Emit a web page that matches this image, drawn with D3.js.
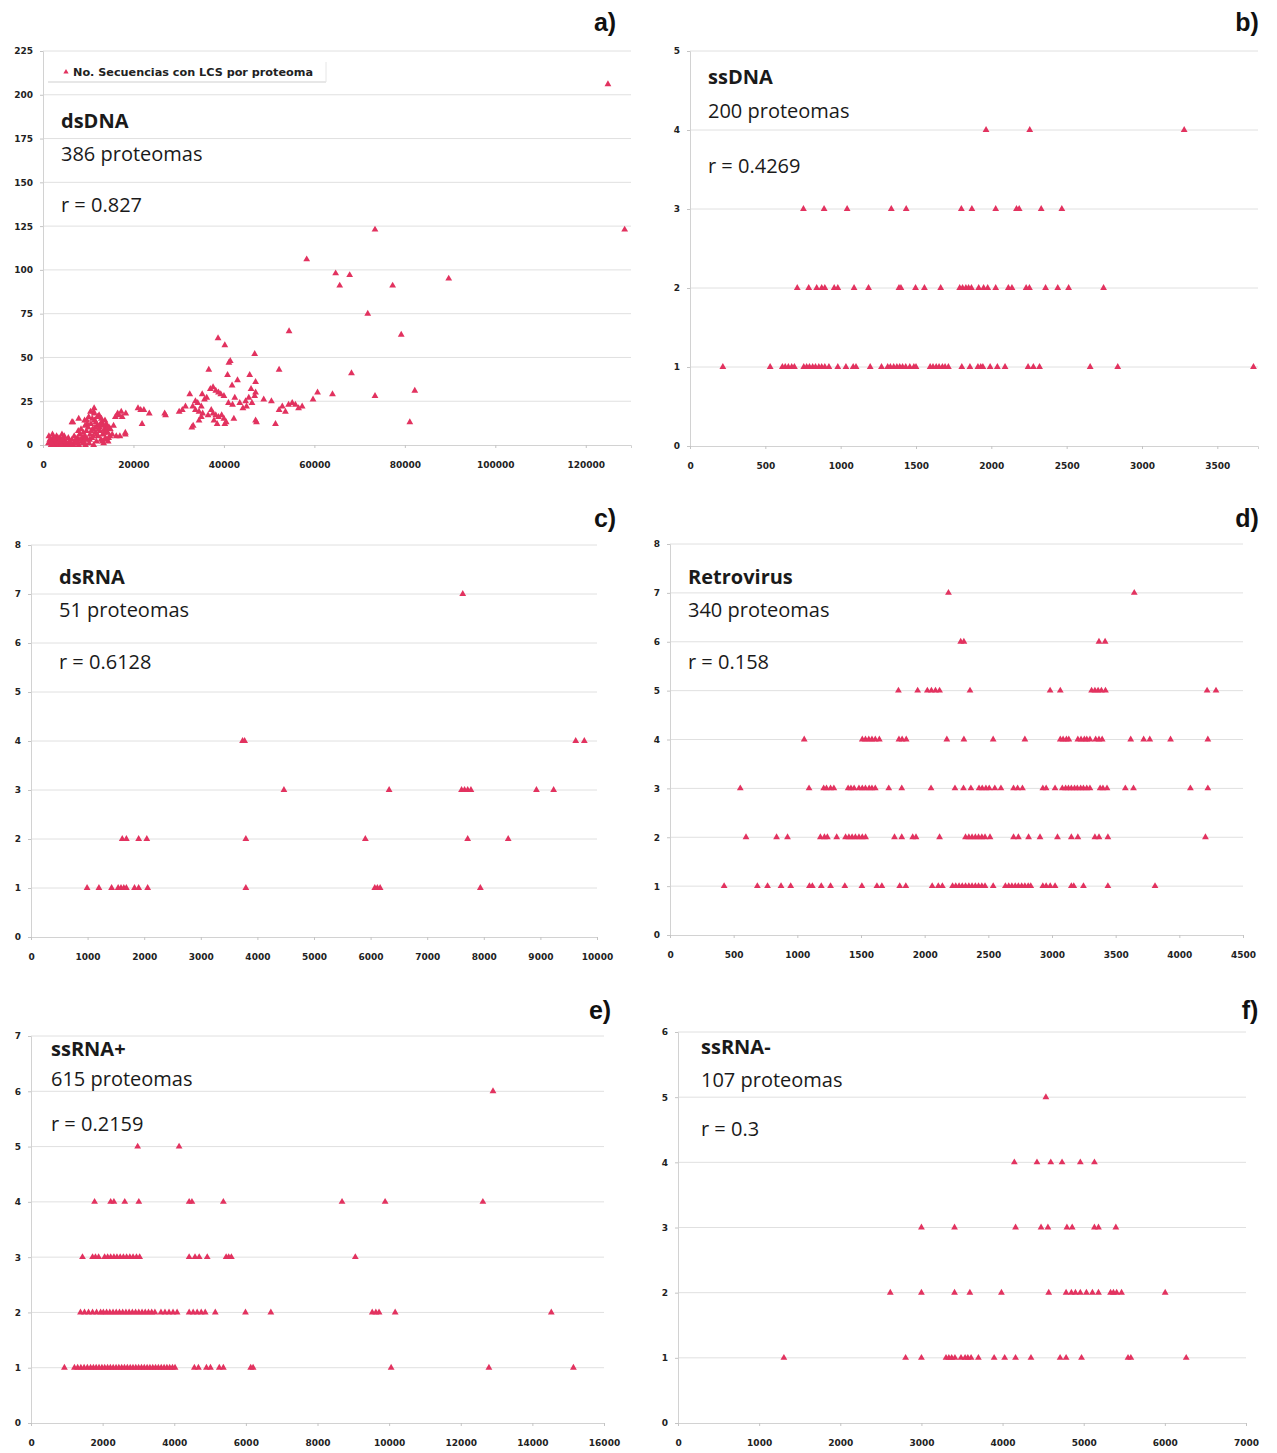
<!DOCTYPE html>
<html>
<head>
<meta charset="utf-8">
<script src="https://cdn.jsdelivr.net/npm/d3@7"></script>
<style>
  body { margin: 0; background: #fff; }
  .tick text { font-family: "DejaVu Sans", sans-serif; font-size: 9px; font-weight: bold; fill: #222; }
  .panel-title { font-family: "Open Sans", sans-serif; font-size: 20px; fill: #1a1a1a; }
  .panel-letter { font-family: "Liberation Sans", Arial, sans-serif; font-size: 25px; font-weight: bold; fill: #111; }
</style>
</head>
<body>
<div class="svg"></div>
<script>
var svgWidth = 1277;
var svgHeight = 1453;
var pointColor = "#e2325f";

// ---- a) dsDNA (x = proteins/length, y = no. sequences with LCS)
var dsdnaX = [124900, 128600, 73400, 58300, 64700, 67800, 65600, 77300, 89700, 71800,
  79200, 54400, 68200, 73400, 82200, 81100, 38700, 40200, 46800, 41100,
  41400, 36650, 52200, 40800, 45700, 43000, 41800, 47000, 47000, 46800,
  47200, 37000, 37600, 38200, 38800, 39300, 40000, 36200, 35700, 35200,
  32450, 33100, 33700, 34500, 35300, 37200, 37600, 38200, 31500, 30800,
  30100, 26900, 27100, 21000, 21600, 22300, 23500, 16500, 17300, 18300,
  16000, 11300, 11200, 40000, 40500, 39500, 38800, 42200, 47000, 51400,
  33200, 32900, 34500, 35000, 52200, 52900, 53600, 54300, 55100, 55800,
  56500, 57300, 59700, 60700, 64000, 21900, 18200, 6400, 7900, 9200,
  9800, 12000, 13800, 44800, 45500, 46200, 46000, 43500, 42400, 48800,
  50500, 44200, 45000, 41900, 41000, 36500, 37800, 38500, 40200, 35000,
  34200, 33700,
  1200, 1500, 1800, 2000, 2200, 2400, 2600, 2800, 3000, 3200,
  3400, 3600, 3800, 4000, 4200, 4400, 4600, 4800, 5000, 1300,
  2100, 2900, 3300, 4100, 4700, 1600, 2500, 3500, 4300, 1900,
  5200, 5500, 5800, 6100, 6400, 6700, 7000, 7300, 7600, 7900,
  8200, 8500, 8800, 5600, 6300, 6900, 7500, 8100, 8700, 6600,
  7800, 8400, 8900,
  9000, 9200, 9400, 9600, 9800, 10000, 10200, 10400, 10600, 10800,
  11000, 11200, 11400, 11600, 11800, 12000, 12200, 12400, 12600, 12800,
  13000, 13200, 13400, 13600, 13800, 14000, 14200, 14400, 14600, 14800,
  9300, 9700, 10100, 10500, 10900, 11300, 11700, 12100, 12500, 12900,
  13300, 13700, 14100, 14500, 14900, 15300, 15600, 16200, 17000, 18200,
  16800, 17500, 9500, 10300, 10700, 11100, 11500, 11900, 12300, 12700,
  13100, 13500, 13900, 14300];
var dsdnaY = [206, 123, 123, 106, 98, 97, 91, 91, 95, 75,
  63, 65, 41, 28, 31, 13, 61, 57, 52, 47,
  48, 43, 43, 40, 40, 37, 34, 36, 30, 28,
  13, 32, 33, 31, 30, 29, 28, 27, 26, 29,
  29, 22, 20, 19, 18, 20, 18, 17, 22, 20,
  19, 18, 17, 21, 20, 20, 18, 18, 19, 18,
  16, 21, 19, 15, 13, 17, 16, 15, 14, 12,
  11, 10, 14, 16, 20, 22, 19, 23, 24, 23,
  21, 22, 26, 30, 29, 12, 6, 13, 15, 14,
  12, 16, 10, 25, 27, 24, 32, 24, 27, 26,
  25, 21, 22, 23, 24, 17, 14, 12, 12, 22,
  24, 25,
  1, 3, 0, 2, 4, 1, 0, 3, 5, 2,
  1, 0, 4, 2, 6, 1, 3, 0, 2, 5,
  6, 1, 4, 0, 5, 2, 3, 2, 3, 1,
  1, 0, 2, 1, 3, 0, 2, 1, 4, 0,
  3, 2, 1, 4, 0, 5, 2, 6, 4, 13,
  8, 9, 7,
  2, 5, 0, 8, 3, 10, 1, 6, 12, 4,
  9, 0, 14, 7, 2, 11, 5, 17, 8, 3,
  13, 6, 1, 9, 4, 12, 7, 2, 10, 5,
  11, 14, 16, 19, 15, 18, 13, 16, 10, 15,
  11, 14, 8, 4, 9, 6, 11, 5, 5, 7,
  17, 16, 4, 3, 8, 5, 10, 6, 9, 12,
  2, 7, 3, 10];
var dsdnaXTicks = [0, 20000, 40000, 60000, 80000, 100000, 120000];
var dsdnaYTicks = [0, 25, 50, 75, 100, 125, 150, 175, 200, 225];

// ---- b) ssDNA, one array of x values per y level
var ssdnaLevel4 = [1965, 2255, 3280];
var ssdnaLevel3 = [753, 890, 1043, 1336, 1435, 1801, 1871, 2029, 2167, 2185, 2331, 2468];
var ssdnaLevel2 = [712, 788, 841, 874, 895, 957, 981, 1089, 1185, 1387, 1400, 1497, 1556, 1664,
  1790, 1809, 1831, 1849, 1868, 1916, 1949, 1976, 2029, 2113, 2137, 2231, 2253, 2360, 2441, 2513, 2745];
var ssdnaLevel1 = [218, 532, 613, 632, 653, 675, 693, 755, 774, 793, 814, 833, 855, 874, 895, 922,
  981, 1035, 1083, 1102, 1196, 1271, 1312, 1330, 1352, 1373, 1392, 1411, 1432, 1459, 1486, 1500,
  1594, 1613, 1634, 1653, 1675, 1693, 1715, 1804, 1858, 1911, 1930, 1944, 1992, 2040, 2091,
  2244, 2279, 2320, 2656, 2839, 3740];
var ssdnaXTicks = [0, 500, 1000, 1500, 2000, 2500, 3000, 3500];
var ssdnaYTicks = [0, 1, 2, 3, 4, 5];

// ---- c) dsRNA
var dsrnaLevel7 = [7628];
var dsrnaLevel4 = [3738, 3774, 9624, 9776];
var dsrnaLevel3 = [4469, 6327, 7607, 7660, 7715, 7773, 8930, 9234];
var dsrnaLevel2 = [1612, 1685, 1902, 2046, 3796, 5907, 7715, 8431];
var dsrnaLevel1 = [991, 1200, 1424, 1540, 1590, 1640, 1685, 1829, 1902, 2061, 3796, 6074, 6120, 6168, 7939];
var dsrnaXTicks = [0, 1000, 2000, 3000, 4000, 5000, 6000, 7000, 8000, 9000, 10000];
var dsrnaYTicks = [0, 1, 2, 3, 4, 5, 6, 7, 8];

// ---- d) Retrovirus
var retroLevel7 = [2187, 3646];
var retroLevel6 = [2283, 2308, 3369, 3417];
var retroLevel5 = [1794, 1945, 2021, 2053, 2085, 2117, 2356, 2985, 3065, 3311, 3337, 3362, 3388, 3420, 4218, 4288];
var retroLevel4 = [1054, 1510, 1535, 1561, 1586, 1612, 1644, 1798, 1823, 1855, 2174, 2308, 2538, 2787,
  3065, 3087, 3113, 3132, 3203, 3228, 3254, 3273, 3298, 3343, 3369, 3394, 3618, 3720, 3768, 3931, 4224];
var retroLevel3 = [552, 1092, 1207, 1229, 1261, 1287, 1399, 1421, 1446, 1484, 1510, 1535, 1564, 1586, 1612,
  1718, 1820, 2050, 2238, 2305, 2363, 2427, 2452, 2481, 2507, 2551, 2599, 2698, 2730, 2768, 2928, 2954,
  3024, 3081, 3107, 3129, 3152, 3177, 3199, 3225, 3247, 3273, 3298, 3378, 3400, 3432, 3576, 3640, 4087, 4224];
var retroLevel2 = [597, 837, 923, 1181, 1213, 1236, 1309, 1379, 1405, 1430, 1456, 1484, 1510, 1536, 1763,
  1820, 1906, 1932, 2117, 2321, 2347, 2372, 2398, 2423, 2449, 2474, 2513, 2698, 2736, 2816, 2906, 3043,
  3152, 3203, 3337, 3369, 3439, 4205];
var retroLevel1 = [425, 686, 766, 872, 948, 1095, 1118, 1188, 1261, 1373, 1507, 1625, 1664, 1804, 1852,
  2059, 2107, 2139, 2219, 2244, 2270, 2295, 2321, 2347, 2372, 2398, 2423, 2449, 2474, 2538, 2634, 2660,
  2685, 2711, 2736, 2762, 2787, 2813, 2833, 2928, 2954, 2986, 3024, 3152, 3171, 3247, 3439, 3809];
var retroXTicks = [0, 500, 1000, 1500, 2000, 2500, 3000, 3500, 4000, 4500];
var retroYTicks = [0, 1, 2, 3, 4, 5, 6, 7, 8];

// ---- e) ssRNA+
var ssrnaPosLevel6 = [12900];
var ssrnaPosLevel5 = [2978, 4135];
var ssrnaPosLevel4 = [1775, 2225, 2315, 2618, 3011, 4416, 4494, 5371, 8685, 9888, 12618];
var ssrnaPosLevel3 = [1438, 1719, 1800, 1888, 2056, 2140, 2225, 2315, 2400, 2490, 2580, 2670, 2760,
  2850, 2945, 3034, 4416, 4580, 4697, 4921, 5449, 5520, 5595, 9056];
var ssrnaPosLevel2 = [1382, 1494, 1607, 1719, 1831, 1944, 2020, 2110, 2200, 2290, 2380, 2470, 2560,
  2650, 2740, 2830, 2920, 3010, 3100, 3190, 3280, 3370, 3460, 3629, 3741, 3854, 3966, 4079, 4416,
  4528, 4640, 4753, 4865, 5146, 5989, 6697, 9528, 9630, 9719, 10169, 14528];
var ssrnaPosLevel1 = [933, 1213, 1303, 1393, 1483, 1573, 1663, 1742, 1820, 1900, 1980, 2058, 2138,
  2216, 2295, 2375, 2453, 2532, 2610, 2690, 2770, 2848, 2926, 3005, 3085, 3163, 3243, 3321, 3400,
  3478, 3557, 3636, 3716, 3795, 3873, 3950, 4022, 4562, 4674, 4899, 5011, 5258, 5371, 6135, 6202,
  10056, 12787, 15146];
var ssrnaPosXTicks = [0, 2000, 4000, 6000, 8000, 10000, 12000, 14000, 16000];
var ssrnaPosYTicks = [0, 1, 2, 3, 4, 5, 6, 7];

// ---- f) ssRNA-
var ssrnaNegLevel5 = [4534];
var ssrnaNegLevel4 = [4145, 4424, 4594, 4733, 4958, 5132];
var ssrnaNegLevel3 = [3000, 3408, 4160, 4474, 4559, 4793, 4858, 5132, 5182, 5396];
var ssrnaNegLevel2 = [2616, 3000, 3408, 3597, 3986, 4569, 4783, 4848, 4898, 4958, 5033, 5107, 5182,
  5331, 5366, 5406, 5466, 6004];
var ssrnaNegLevel1 = [1305, 2805, 3000, 3303, 3338, 3373, 3413, 3488, 3538, 3572, 3612, 3702, 3896,
  4026, 4160, 4350, 4709, 4783, 4973, 5546, 5581, 6263];
var ssrnaNegXTicks = [0, 1000, 2000, 3000, 4000, 5000, 6000, 7000];
var ssrnaNegYTicks = [0, 1, 2, 3, 4, 5, 6];

var legendLabel = "No. Secuencias con LCS por proteoma";

// turn per-level arrays into {x, y} points
function levelPoints(levels) {
  var pts = [];
  levels.forEach(function(row) {
    row[1].forEach(function(v) {
      pts.push({ x: v, y: row[0] });
    });
  });
  return pts;
}

var svg = d3.selectAll(".svg")
  .append("svg")
  .attr("width", svgWidth)
  .attr("height", svgHeight)
  .attr("class", "svg");

function drawPanel(p) {
  var xScale = d3.scaleLinear()
    .domain([0, p.xMax])
    .range([p.left, p.right]);

  var yScale = d3.scaleLinear()
    .domain([0, d3.max(p.yTicks)])
    .range([p.bottom, p.top]);

  var g = svg.append("g");

  // horizontal gridlines
  g.selectAll(".grid")
    .data(p.yTicks.filter(function(t) { return t > 0; }))
    .enter()
    .append("line")
    .attr("x1", p.left)
    .attr("x2", p.right)
    .attr("y1", function(d) { return yScale(d); })
    .attr("y2", function(d) { return yScale(d); })
    .attr("stroke", "#e0e0e0")
    .attr("stroke-width", 1);

  var yAxis = g.append("g")
    .attr("transform", `translate(${p.left}, 0)`)
    .call(d3.axisLeft(yScale).tickValues(p.yTicks).tickSize(3).tickPadding(7).tickFormat(d3.format("d")));

  var xAxis = g.append("g")
    .attr("transform", `translate(0, ${p.bottom})`)
    .call(d3.axisBottom(xScale).tickValues(p.xTicks).tickSize(3).tickPadding(14).tickFormat(d3.format("d")));

  [yAxis, xAxis].forEach(function(ax) {
    ax.select(".domain").attr("stroke", "#d2d2d2");
    ax.selectAll(".tick line").attr("stroke", "#c4c4c4");
  });

  g.selectAll(".pt")
    .data(p.points)
    .enter()
    .append("path")
    .attr("d", d3.symbol().type(d3.symbolTriangle).size(20))
    .attr("transform", function(d) {
      return `translate(${xScale(d.x)}, ${yScale(d.y)})`;
    })
    .attr("fill", pointColor);

  // name, count and correlation
  p.lines.forEach(function(txt, i) {
    g.append("text")
      .attr("class", "panel-title")
      .attr("x", p.textX)
      .attr("y", p.textY[i])
      .attr("font-weight", i == 0 ? "bold" : "normal")
      .text(txt);
  });

  g.append("text")
    .attr("class", "panel-letter")
    .attr("x", p.letterX)
    .attr("y", p.letterY)
    .attr("text-anchor", "middle")
    .text(p.letter);

  return { x: xScale, y: yScale };
}

var dsdnaPoints = dsdnaX.map(function(v, i) { return { x: v, y: dsdnaY[i] }; });

drawPanel({
  left: 43, right: 631, top: 51, bottom: 445,
  xMax: 130000, xTicks: dsdnaXTicks, yTicks: dsdnaYTicks,
  points: dsdnaPoints,
  lines: ["dsDNA", "386 proteomas", "r = 0.827"],
  textX: 61, textY: [128, 161, 212],
  letter: "a)", letterX: 605, letterY: 31
});

drawPanel({
  left: 690, right: 1258, top: 51, bottom: 446,
  xMax: 3770, xTicks: ssdnaXTicks, yTicks: ssdnaYTicks,
  points: levelPoints([[4, ssdnaLevel4], [3, ssdnaLevel3], [2, ssdnaLevel2], [1, ssdnaLevel1]]),
  lines: ["ssDNA", "200 proteomas", "r = 0.4269"],
  textX: 708, textY: [84, 118, 173],
  letter: "b)", letterX: 1247, letterY: 31
});

drawPanel({
  left: 31, right: 597, top: 545, bottom: 937,
  xMax: 10000, xTicks: dsrnaXTicks, yTicks: dsrnaYTicks,
  points: levelPoints([[7, dsrnaLevel7], [4, dsrnaLevel4], [3, dsrnaLevel3], [2, dsrnaLevel2], [1, dsrnaLevel1]]),
  lines: ["dsRNA", "51 proteomas", "r = 0.6128"],
  textX: 59, textY: [584, 617, 669],
  letter: "c)", letterX: 605, letterY: 527
});

drawPanel({
  left: 670, right: 1243, top: 544, bottom: 935,
  xMax: 4500, xTicks: retroXTicks, yTicks: retroYTicks,
  points: levelPoints([[7, retroLevel7], [6, retroLevel6], [5, retroLevel5], [4, retroLevel4],
    [3, retroLevel3], [2, retroLevel2], [1, retroLevel1]]),
  lines: ["Retrovirus", "340 proteomas", "r = 0.158"],
  textX: 688, textY: [584, 617, 669],
  letter: "d)", letterX: 1247, letterY: 527
});

drawPanel({
  left: 31, right: 604, top: 1036, bottom: 1423,
  xMax: 16000, xTicks: ssrnaPosXTicks, yTicks: ssrnaPosYTicks,
  points: levelPoints([[6, ssrnaPosLevel6], [5, ssrnaPosLevel5], [4, ssrnaPosLevel4], [3, ssrnaPosLevel3],
    [2, ssrnaPosLevel2], [1, ssrnaPosLevel1]]),
  lines: ["ssRNA+", "615 proteomas", "r = 0.2159"],
  textX: 51, textY: [1056, 1086, 1131],
  letter: "e)", letterX: 600, letterY: 1019
});

drawPanel({
  left: 678, right: 1246, top: 1032, bottom: 1423,
  xMax: 7000, xTicks: ssrnaNegXTicks, yTicks: ssrnaNegYTicks,
  points: levelPoints([[5, ssrnaNegLevel5], [4, ssrnaNegLevel4], [3, ssrnaNegLevel3],
    [2, ssrnaNegLevel2], [1, ssrnaNegLevel1]]),
  lines: ["ssRNA-", "107 proteomas", "r = 0.3"],
  textX: 701, textY: [1054, 1087, 1136],
  letter: "f)", letterX: 1250, letterY: 1019
});

// legend box of panel a
var legend = svg.append("g");
legend.append("line")
  .attr("x1", 48).attr("x2", 326)
  .attr("y1", 82).attr("y2", 82)
  .attr("stroke", "#cfcfcf");
legend.append("line")
  .attr("x1", 326).attr("x2", 326)
  .attr("y1", 62).attr("y2", 82)
  .attr("stroke", "#e6e6e6");
legend.append("path")
  .attr("d", d3.symbol().type(d3.symbolTriangle).size(12))
  .attr("transform", "translate(66, 72)")
  .attr("fill", pointColor);
legend.append("text")
  .attr("x", 73)
  .attr("y", 76)
  .attr("font-family", "DejaVu Sans, sans-serif")
  .attr("font-size", 10.5)
  .attr("font-weight", "bold")
  .attr("fill", "#222")
  .attr("textLength", 240)
  .attr("lengthAdjust", "spacingAndGlyphs")
  .text(legendLabel);
</script>
</body>
</html>
